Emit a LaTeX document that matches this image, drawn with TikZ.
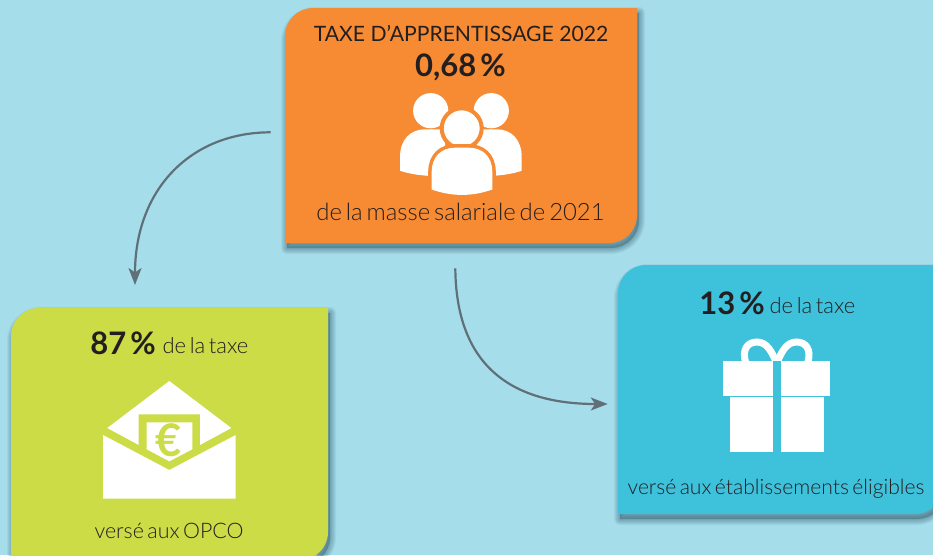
\documentclass[tikz,border=0pt]{standalone}
\usepackage{fontspec}
\setmainfont{Lato}
\newfontfamily\lightf[WordSpace=0.6]{Lato Light}
\usetikzlibrary{arrows.meta}
\definecolor{bgc}{HTML}{A6DDEB}
\definecolor{orangec}{HTML}{F68B33}
\definecolor{greenc}{HTML}{CBDC47}
\definecolor{bluec}{HTML}{3EC1DB}
\definecolor{arrowc}{HTML}{5F7079}
\definecolor{inkc}{HTML}{231F20}
\definecolor{shadowc}{HTML}{2A5566}
\tikzset{
  cardbox/.style={rectangle,inner sep=0pt,outer sep=0pt},
  title/.style={anchor=base,inner sep=0pt,text=inkc,font=\fontsize{21.15}{24}\selectfont},
  big/.style={anchor=base,inner sep=0pt,text=inkc,font=\fontsize{31}{32}\selectfont\bfseries},
  thin/.style={anchor=base,inner sep=0pt,text=inkc,font=\lightf\fontsize{#1}{25}\selectfont},
  thin/.default=21,
  flow/.style={draw=arrowc,line width=2.2pt,-{Stealth[length=17pt,width=13pt,inset=4.5pt]}},
  icon/.style={fill=white,draw=none}
}
\newcommand{\cardpath}[3]{([shift={(#2,#3)}]#1.south west) [rounded corners=28pt] -- ([shift={(#2,#3)}]#1.north west) [sharp corners] -- ([shift={(#2,#3)}]#1.north east) [rounded corners=28pt] -- ([shift={(#2,#3)}]#1.south east) [sharp corners] -- cycle}
\newcommand{\card}[2]{%
  \foreach \w in {12,10,8,6,4,2}{
    \fill[shadowc,opacity=0.075,draw=shadowc,line width=\w pt,line join=round] \cardpath{#1}{2}{5};
  }
  \fill[#2] \cardpath{#1}{0}{0};
}
\begin{document}
\begin{tikzpicture}[x=1pt,y=-1pt]
\useasboundingbox (0,0) rectangle (933,555);
\fill[bgc] (0,0) rectangle (933,555);
\node[cardbox,minimum width=352pt,minimum height=235pt] (taxe) at (461,125.5) {};
\node[cardbox,minimum width=317pt,minimum height=252pt] (opco) at (169.5,434) {};
\node[cardbox,minimum width=325pt,minimum height=249pt] (etab) at (780.5,389.5) {};
\begin{scope}
\clip (0,0) rectangle (933,555);
\card{taxe}{orangec}
\card{opco}{greenc}
\card{etab}{bluec}
\end{scope}
% texts
\node[title] (t1) at (461,41) {TAXE D’APPRENTISSAGE 2022};
\node[big] (t2) at (460.5,76.7) {0,68\kern4pt\%};
\node[thin=23.9] (t3) at (460.5,220.7) {de la masse salariale de 2021};
\node[big] (g1) at (123,354) {87\kern4pt\%};
\node[thin=22] (g2) at (205.5,353.3) {de la taxe};
\node[thin=21.4] (g3) at (169,538.7) {versé aux OPCO};
\node[big] (b1) at (732,314) {13\kern4pt\%};
\node[thin=22] (b2) at (812.5,313.3) {de la taxe};
\node[thin=21.1] (b3) at (776,494.3) {versé aux établissements éligibles};
% people icon
\fill[icon] (430.7,110.7) circle (17.6);
\fill[icon] (491.3,110.7) circle (17.6);
\fill[icon] (400,170.7) -- (400,157) .. controls (400,140) and (410,129.3) .. (425,129.3) -- (445,129.3) -- (445,178) -- (427,175.7) .. controls (417,175) and (408,173.5) .. (400,170.7) -- cycle;
\fill[icon] (521.7,170.7) -- (521.7,157) .. controls (521.7,140) and (511.7,129.3) .. (496.7,129.3) -- (476.7,129.3) -- (476.7,178) -- (494.7,175.7) .. controls (504.7,175) and (513.7,173.5) .. (521.7,170.7) -- cycle;
\draw[fill=white,draw=orangec,line width=4pt] (461.7,128.3) circle (20);
\draw[fill=white,draw=orangec,line width=7pt,line join=round] (431.7,189.5) -- (431.7,172) .. controls (431.7,156) and (442,147.7) .. (455,147.7) -- (469,147.7) .. controls (482,147.7) and (492.3,156) .. (492.3,172) -- (492.3,189.5) .. controls (472,196.7) and (452,196.7) .. (431.7,189.5) -- cycle;
\fill[icon] (431.7,189.5) -- (431.7,172) .. controls (431.7,156) and (442,147.7) .. (455,147.7) -- (469,147.7) .. controls (482,147.7) and (492.3,156) .. (492.3,172) -- (492.3,189.5) .. controls (472,196.7) and (452,196.7) .. (431.7,189.5) -- cycle;
% envelope
\fill[icon] (169.3,381) -- (231.3,428) -- (200,445) -- (200,414.3) -- (138.7,414.3) -- (138.7,445) -- (107.3,428) -- cycle;
\fill[icon] (146.7,422.3) -- (192.3,422.3) -- (192.3,449.3) -- (169.3,461.3) -- (146.7,449.3) -- cycle;
\fill[icon] (103,435) -- (169.3,470) -- (235.7,435) -- (235.7,498.7) -- (103,498.7) -- cycle;
\node[anchor=center,inner sep=0pt,text=greenc,font=\fontsize{45}{45}\selectfont\bfseries] (euro) at (168.5,440) {€};
% gift
\fill[icon] (723,360.7) rectangle (773,396);
\fill[icon] (780.7,360.7) rectangle (830.3,396);
\fill[icon] (730,397) rectangle (773,452);
\fill[icon] (781,397) rectangle (824,452);
\begin{scope}
\clip (730,330) rectangle (825,360.9);
\draw[white,line width=7pt] (745.5,362) .. controls (742,350) and (747,342) .. (757,342) .. controls (767,342) and (772,352) .. (777,364);
\draw[white,line width=7pt] (807.9,362) .. controls (811.4,350) and (806.4,342) .. (796.4,342) .. controls (786.4,342) and (781.4,352) .. (776.4,364);
\end{scope}
% connectors
\coordinate (a1s) at (270.7,132.3);
\coordinate (a1e) at (135,285);
\coordinate (a2s) at (455.3,268.3);
\coordinate (a2e) at (607.7,404);
\draw[flow] (a1s) .. controls (190,132.3) and (135,190) .. (a1e);
\draw[flow] (a2s) .. controls (456,355) and (500,404) .. (a2e);
\end{tikzpicture}
\end{document}
